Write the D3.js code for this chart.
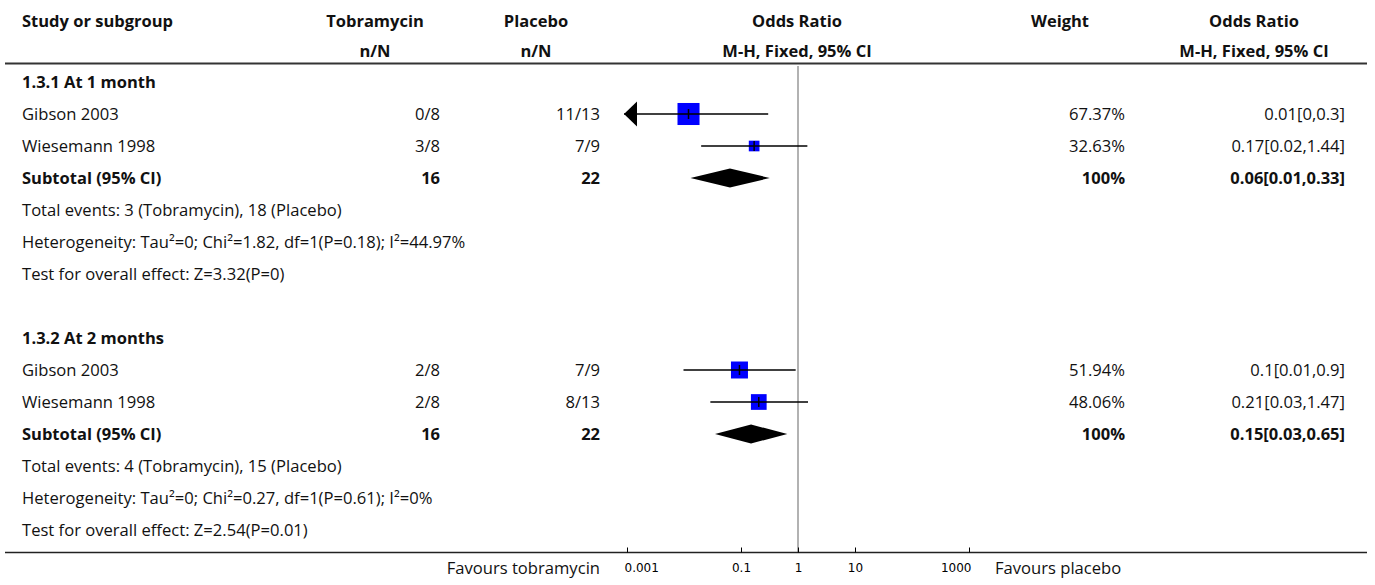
<!DOCTYPE html>
<html>
<head>
<meta charset="utf-8">
<script src="https://cdn.jsdelivr.net/npm/d3@7"></script>
<style>
  body { margin: 0; background: #fff; }
  svg { font-family: 'Open Sans', sans-serif; font-size: 16.6px; fill: #111; }
  .b { font-weight: bold; font-size: 16.5px; }
  .axis text { font-family: 'DejaVu Sans', sans-serif; font-size: 12px; }
</style>
</head>
<body>
<svg width="1375" height="585"></svg>
<script>
/* global d3 */

const groupTitles = ['1.3.1 At 1 month', '1.3.2 At 2 months']

const studyNames = ['Gibson 2003', 'Wiesemann 1998', 'Gibson 2003', 'Wiesemann 1998']
const studyRows = [1, 2, 9, 10]
const tobraEvents = ['0/8', '3/8', '2/8', '2/8']
const placeboEvents = ['11/13', '7/9', '7/9', '8/13']
const studyOR = [0.012, 0.17, 0.094, 0.205]
const studyLower = [0, 0.02, 0.0098, 0.029]
const studyUpper = [0.3, 1.46, 0.91, 1.5]
const studyWeight = [67.37, 32.63, 51.94, 48.06]
const studyCI = ['0.01[0,0.3]', '0.17[0.02,1.44]', '0.1[0.01,0.9]', '0.21[0.03,1.47]']

const subRows = [3, 11]
const subTobra = ['16', '16']
const subPlacebo = ['22', '22']
const subOR = [0.064, 0.15]
const subLower = [0.013, 0.035]
const subUpper = [0.32, 0.65]
const subWeight = ['100%', '100%']
const subCI = ['0.06[0.01,0.33]', '0.15[0.03,0.65]']

const noteRows = [4, 5, 6, 12, 13, 14]
const notes = [
  'Total events: 3 (Tobramycin), 18 (Placebo)',
  'Heterogeneity: Tau²=0; Chi²=1.82, df=1(P=0.18); I²=44.97%',
  'Test for overall effect: Z=3.32(P=0)',
  'Total events: 4 (Tobramycin), 15 (Placebo)',
  'Heterogeneity: Tau²=0; Chi²=0.27, df=1(P=0.61); I²=0%',
  'Test for overall effect: Z=2.54(P=0.01)'
]

const axisTicks = [0.001, 0.1, 1, 10, 1000]

const svg = d3.select('svg')

const x = d3.scaleLog().domain([0.001, 1000]).range([627, 969])
const y = d3.scaleLinear().domain([0, 14]).range([82, 530])
const side = d3.scaleLinear().domain([0, 100]).range([0, 32.7])

const colText = { study: 22, tobra: 440, placebo: 600, weight: 1125, ci: 1345 }

// header
const head = svg.append('g').attr('class', 'b')
head.append('text').attr('x', colText.study).attr('y', 26.5).text('Study or subgroup')
const heads = [
  [375, 'Tobramycin', 'n/N'],
  [536, 'Placebo', 'n/N'],
  [797, 'Odds Ratio', 'M-H, Fixed, 95% CI'],
  [1060, 'Weight', ''],
  [1254, 'Odds Ratio', 'M-H, Fixed, 95% CI']
]
heads.forEach(h => {
  head.append('text').attr('x', h[0]).attr('y', 26.5).attr('text-anchor', 'middle').text(h[1])
  head.append('text').attr('x', h[0]).attr('y', 57).attr('text-anchor', 'middle').text(h[2])
})

svg.append('line')
  .attr('x1', 5).attr('x2', 1367).attr('y1', 63.5).attr('y2', 63.5)
  .attr('stroke', '#333').attr('stroke-width', 2)

// no-effect line
svg.append('line')
  .attr('x1', x(1)).attr('x2', x(1)).attr('y1', 66).attr('y2', 552)
  .attr('stroke', '#999').attr('stroke-width', 1.5)

// group titles
svg.selectAll('.gt').data(groupTitles).enter().append('text')
  .attr('class', 'gt b').attr('x', colText.study)
  .attr('y', (d, i) => y(i * 8)).attr('dy', '0.35em').text(d => d)

// study rows
const studies = studyNames.map((name, i) => ({
  name, row: studyRows[i], t: tobraEvents[i], p: placeboEvents[i],
  or: studyOR[i], lo: studyLower[i], hi: studyUpper[i], w: studyWeight[i], ci: studyCI[i]
}))

const st = svg.selectAll('.study').data(studies).enter().append('g').attr('class', 'study')
st.append('text').attr('x', colText.study).attr('y', d => y(d.row)).attr('dy', '0.35em').text(d => d.name)
st.append('text').attr('x', colText.tobra).attr('y', d => y(d.row)).attr('dy', '0.35em').attr('text-anchor', 'end').text(d => d.t)
st.append('text').attr('x', colText.placebo).attr('y', d => y(d.row)).attr('dy', '0.35em').attr('text-anchor', 'end').text(d => d.p)
st.append('text').attr('x', colText.weight).attr('y', d => y(d.row)).attr('dy', '0.35em').attr('text-anchor', 'end').text(d => d.w.toFixed(2) + '%')
st.append('text').attr('x', colText.ci).attr('y', d => y(d.row)).attr('dy', '0.35em').attr('text-anchor', 'end').text(d => d.ci)

// square sized by weight, CI line drawn over it
st.append('rect')
  .attr('x', d => x(d.or) - side(d.w) / 2).attr('y', d => y(d.row) - side(d.w) / 2)
  .attr('width', d => side(d.w)).attr('height', d => side(d.w))
  .attr('fill', '#0000ff')

const lowX = d => d.lo < x.domain()[0] ? x(x.domain()[0]) - 3 : x(d.lo)
st.append('line')
  .attr('x1', lowX).attr('x2', d => x(d.hi))
  .attr('y1', d => y(d.row)).attr('y2', d => y(d.row))
  .attr('stroke', '#000').attr('stroke-width', 1.5)
st.filter(d => d.lo < x.domain()[0]).append('path')
  .attr('d', d => {
    const tx = lowX(d)
    const cy = y(d.row)
    return 'M' + tx + ',' + cy + 'L' + (tx + 13) + ',' + (cy - 12.5) + 'L' + (tx + 13) + ',' + (cy + 12.5) + 'Z'
  })
  .attr('fill', '#000')
st.append('line')
  .attr('x1', d => x(d.or)).attr('x2', d => x(d.or))
  .attr('y1', d => y(d.row) - 5).attr('y2', d => y(d.row) + 5)
  .attr('stroke', '#000').attr('stroke-width', 1.5)

// subtotals
const subs = subRows.map((row, i) => ({
  row, t: subTobra[i], p: subPlacebo[i], or: subOR[i], lo: subLower[i], hi: subUpper[i], w: subWeight[i], ci: subCI[i]
}))
const sb = svg.selectAll('.sub').data(subs).enter().append('g').attr('class', 'sub b')
sb.append('text').attr('x', colText.study).attr('y', d => y(d.row)).attr('dy', '0.35em').text('Subtotal (95% CI)')
sb.append('text').attr('x', colText.tobra).attr('y', d => y(d.row)).attr('dy', '0.35em').attr('text-anchor', 'end').text(d => d.t)
sb.append('text').attr('x', colText.placebo).attr('y', d => y(d.row)).attr('dy', '0.35em').attr('text-anchor', 'end').text(d => d.p)
sb.append('text').attr('x', colText.weight).attr('y', d => y(d.row)).attr('dy', '0.35em').attr('text-anchor', 'end').text(d => d.w)
sb.append('text').attr('x', colText.ci).attr('y', d => y(d.row)).attr('dy', '0.35em').attr('text-anchor', 'end').text(d => d.ci)
sb.append('path')
  .attr('d', d => {
    const cy = y(d.row)
    return 'M' + x(d.lo) + ',' + cy + 'L' + x(d.or) + ',' + (cy - 9.5) +
      'L' + x(d.hi) + ',' + cy + 'L' + x(d.or) + ',' + (cy + 9.5) + 'Z'
  })
  .attr('fill', '#000')

// notes
svg.selectAll('.note').data(notes).enter().append('text')
  .attr('class', 'note').attr('x', colText.study)
  .attr('y', (d, i) => y(noteRows[i])).attr('dy', '0.35em').text(d => d)

// bottom axis
svg.append('line')
  .attr('x1', 5).attr('x2', 1367).attr('y1', 552.5).attr('y2', 552.5)
  .attr('stroke', '#222').attr('stroke-width', 1.5)

const axis = svg.append('g')
  .attr('class', 'axis')
  .attr('transform', 'translate(0,552.5)')
  .call(d3.axisBottom(x).tickValues(axisTicks).tickFormat(d3.format('~g')).tickSize(-5).tickSizeOuter(0).tickPadding(11))
axis.select('.domain').remove()
axis.selectAll('.tick text')
  .attr('text-anchor', (d, i) => i === 0 ? 'start' : i === axisTicks.length - 1 ? 'end' : 'middle')
  .attr('dx', (d, i) => i === 0 ? -3 : i === axisTicks.length - 1 ? 2 : 0)

svg.append('text').attr('x', 600).attr('y', 568).attr('dy', '0.35em').attr('text-anchor', 'end').text('Favours tobramycin')
svg.append('text').attr('x', 995).attr('y', 568).attr('dy', '0.35em').text('Favours placebo')
</script>
</body>
</html>
